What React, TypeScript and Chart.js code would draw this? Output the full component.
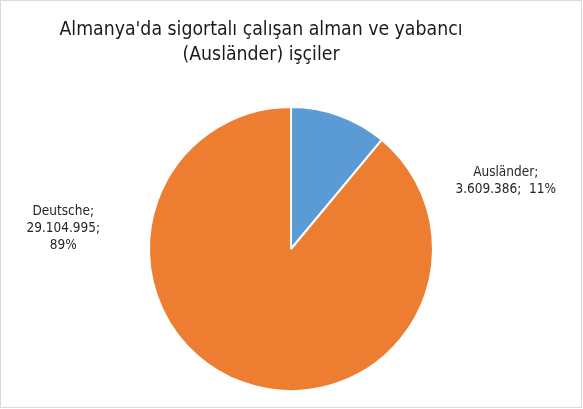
import React, { useEffect, useRef } from "react";
import { Chart, registerables } from "chart.js";

Chart.register(...registerables);

const categories = ["Ausländer", "Deutsche"];
const values = [3609386, 29104995];
const percents = ["11%", "89%"];
const valueLabels = ["3.609.386", "29.104.995"];
const colors = ["#5B9BD5", "#ED7D31"];
const titleLines = ["Almanya'da sigortalı çalışan alman ve yabancı", "(Ausländer) işçiler"];

const FONT = "'DejaVu Sans Condensed', 'DejaVu Sans', Tahoma, sans-serif";

// label lines and placement relative to pie centre, in units of radius
const labelLines = [
  [`${categories[0]};`, `${valueLabels[0]};  ${percents[0]}`],
  [`${categories[1]};`, `${valueLabels[1]};`, percents[1]],
];
const labelOffsets = [
  { dx: 1.512, dy: -0.54 },
  { dx: -1.604, dy: -0.265 },
];

const titlePlugin = {
  id: "offsetTitle",
  afterDraw(chart: any) {
    const ctx = chart.ctx;
    ctx.save();
    ctx.font = `19.3px ${FONT}`;
    ctx.fillStyle = "#1a1a1a";
    ctx.textAlign = "center";
    ctx.textBaseline = "alphabetic";
    const cx = chart.width / 2 - 30;
    titleLines.forEach((line, i) => {
      ctx.fillText(line, cx, 34 + i * 25);
    });
    ctx.restore();
  },
};

const labelPlugin = {
  id: "sliceLabels",
  afterDatasetsDraw(chart: any) {
    const meta = chart.getDatasetMeta(0);
    const ctx = chart.ctx;
    ctx.save();
    ctx.font = `13.5px ${FONT}`;
    ctx.fillStyle = "#262626";
    ctx.textAlign = "center";
    ctx.textBaseline = "middle";
    meta.data.forEach((arc: any, i: number) => {
      const r = arc.outerRadius;
      const x = arc.x + labelOffsets[i].dx * r;
      const y = arc.y + labelOffsets[i].dy * r;
      labelLines[i].forEach((line, j) => {
        ctx.fillText(line, x, y + j * 17.3);
      });
    });
    ctx.restore();
  },
};

export default function App() {
  const ref = useRef<HTMLCanvasElement>(null);
  useEffect(() => {
    document.body.style.margin = "0";
    const chart = new Chart(ref.current!, {
      type: "pie",
      data: {
        labels: categories,
        datasets: [
          {
            data: values,
            backgroundColor: colors,
            borderColor: "#ffffff",
            borderWidth: 2,
          },
        ],
      },
      options: {
        animation: false,
        responsive: false,
        events: [],
        layout: { padding: { top: 105, bottom: 15, left: 0, right: 0 } },
        plugins: {
          legend: { display: false },
          tooltip: { enabled: false },
          title: { display: false },
        },
      },
      plugins: [labelPlugin, titlePlugin],
    });
    return () => chart.destroy();
  }, []);
  return (
    <div
      style={{
        position: "absolute",
        left: 0,
        top: 0,
        width: 582,
        height: 408,
        boxSizing: "border-box",
        border: "1px solid #d9d9d9",
        background: "#fff",
      }}
    >
      <canvas ref={ref} width={580} height={406} style={{ display: "block" }} />
    </div>
  );
}
